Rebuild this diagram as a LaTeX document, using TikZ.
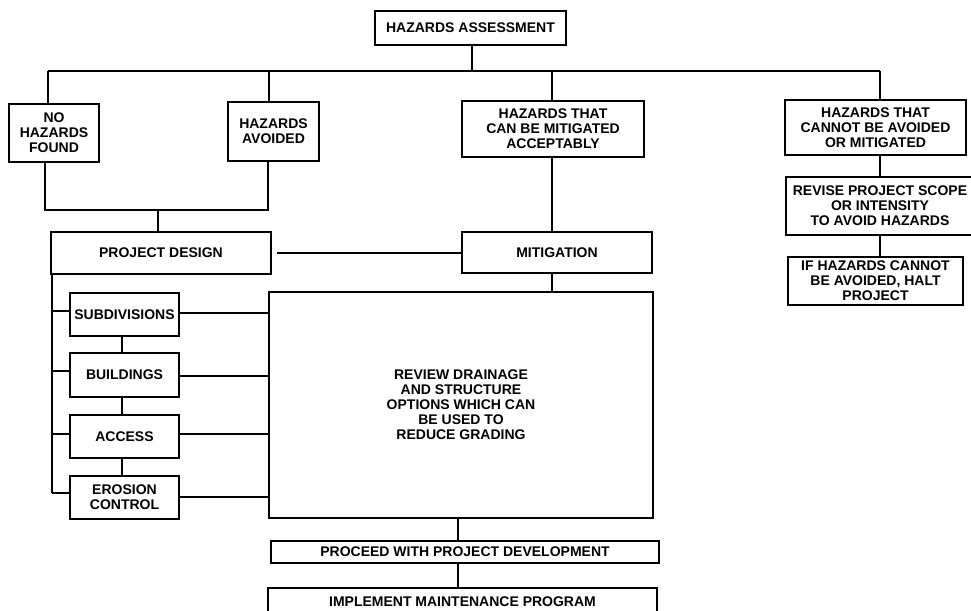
\documentclass[tikz,border=0pt]{standalone}
\usepackage{fontspec}
\setmainfont{Liberation Sans}
\begin{document}
\begin{tikzpicture}[x=1pt,y=-1pt,
  box/.style={draw, line width=1.1pt, inner sep=0pt, align=center,
    font=\fontsize{14}{15}\selectfont\bfseries},
  conn/.style={line width=1.1pt}]
\useasboundingbox (0,0) rectangle (971,610);
% boxes
\node[box, minimum width=191pt, minimum height=34pt] (ha) at (470.5,28) {HAZARDS ASSESSMENT};
\node[box, minimum width=90pt, minimum height=58pt] (nohaz) at (54,133) {NO\\HAZARDS\\FOUND};
\node[box, minimum width=91pt, minimum height=59pt] (avoid) at (273.5,131.5) {HAZARDS\\AVOIDED};
\node[box, minimum width=182pt, minimum height=56pt] (canmit) at (553,129) {HAZARDS THAT\\CAN BE MITIGATED\\ACCEPTABLY};
\node[box, minimum width=181pt, minimum height=55pt] (cannot) at (875.5,127.5) {HAZARDS THAT\\CANNOT BE AVOIDED\\OR MITIGATED};
\node[box, minimum width=188pt, minimum height=58pt] (revise) at (880,206) {REVISE PROJECT SCOPE\\OR INTENSITY\\TO AVOID HAZARDS};
\node[box, minimum width=175pt, minimum height=48pt] (halt) at (875.5,281) {IF HAZARDS CANNOT\\BE AVOIDED, HALT\\PROJECT};
\node[box, minimum width=220pt, minimum height=42pt] (design) at (161,253) {PROJECT DESIGN};
\node[box, minimum width=190pt, minimum height=41pt] (mitigation) at (557,252.5) {MITIGATION};
\node[box, minimum width=109pt, minimum height=43pt] (subdiv) at (124.5,314.5) {SUBDIVISIONS};
\node[box, minimum width=109pt, minimum height=44pt] (build) at (124.5,375) {BUILDINGS};
\node[box, minimum width=109pt, minimum height=43pt] (access) at (124.5,436.5) {ACCESS};
\node[box, minimum width=109pt, minimum height=43pt] (erosion) at (124.5,497.5) {EROSION\\CONTROL};
\node[box, minimum width=384pt, minimum height=226pt] (review) at (461,405) {REVIEW DRAINAGE\\AND STRUCTURE\\OPTIONS WHICH CAN\\BE USED TO\\REDUCE GRADING};
\node[box, minimum width=388pt, minimum height=22pt] (proceed) at (465,552) {PROCEED WITH PROJECT DEVELOPMENT};
\node[box, minimum width=389pt, minimum height=28pt] (implement) at (462.5,602) {IMPLEMENT MAINTENANCE PROGRAM};
% helper coordinates
\coordinate (bus) at (472,71);
\coordinate (busL) at (48,71);
\coordinate (busA) at (269,71);
\coordinate (busR) at (880,71);
\coordinate (join) at (158,210);
\coordinate (joinL) at (45,210);
\coordinate (joinR) at (268,210);
\coordinate (spine) at (52,0);
\coordinate (col) at (122,0);
\coordinate (midx) at (552,0);
\coordinate (botx) at (458,0);
% top bus
\draw[conn] (ha.south -| bus) -- (bus);
\draw[conn] (busL) -- (busR);
\draw[conn] (busL) -- (nohaz.north -| busL);
\draw[conn] (busA) -- (avoid.north -| busA);
\draw[conn] (midx |- busL) -- (midx |- canmit.north);
\draw[conn] (busR) -- (busR |- cannot.north);
\draw[conn] (cannot.south -| busR) -- (revise.north -| busR);
\draw[conn] (revise.south -| busR) -- (halt.north -| busR);
% join of no hazards / avoided
\draw[conn] (nohaz.south -| joinL) -- (joinL) -- (joinR) -- (avoid.south -| joinR);
\draw[conn] (join) -- (design.north -| join);
% design to mitigation
\draw[conn] ([xshift=5pt]design.east) -- (mitigation.west |- design.east);
\draw[conn] (midx |- canmit.south) -- (midx |- mitigation.north);
\draw[conn] (midx |- mitigation.south) -- (midx |- review.north);
% left spine
\draw[conn] (design.south -| spine) -- (spine |- 0,493);
\draw[conn] (spine |- 0,311) -- (subdiv.west |- 0,311);
\draw[conn] (spine |- 0,371) -- (build.west |- 0,371);
\draw[conn] (spine |- 0,434) -- (access.west |- 0,434);
\draw[conn] (spine |- 0,493) -- (erosion.west |- 0,493);
\draw[conn] (subdiv.south -| col) -- (build.north -| col);
\draw[conn] (build.south -| col) -- (access.north -| col);
\draw[conn] (access.south -| col) -- (erosion.north -| col);
% to review box
\draw[conn] (subdiv.east |- 0,313) -- (review.west |- 0,313);
\draw[conn] (build.east |- 0,376) -- (review.west |- 0,376);
\draw[conn] (access.east |- 0,434) -- (review.west |- 0,434);
\draw[conn] (erosion.east |- 0,497) -- (review.west |- 0,497);
% bottom
\draw[conn] (review.south -| botx) -- (proceed.north -| botx);
\draw[conn] (proceed.south -| botx) -- (implement.north -| botx);
\end{tikzpicture}
\end{document}
